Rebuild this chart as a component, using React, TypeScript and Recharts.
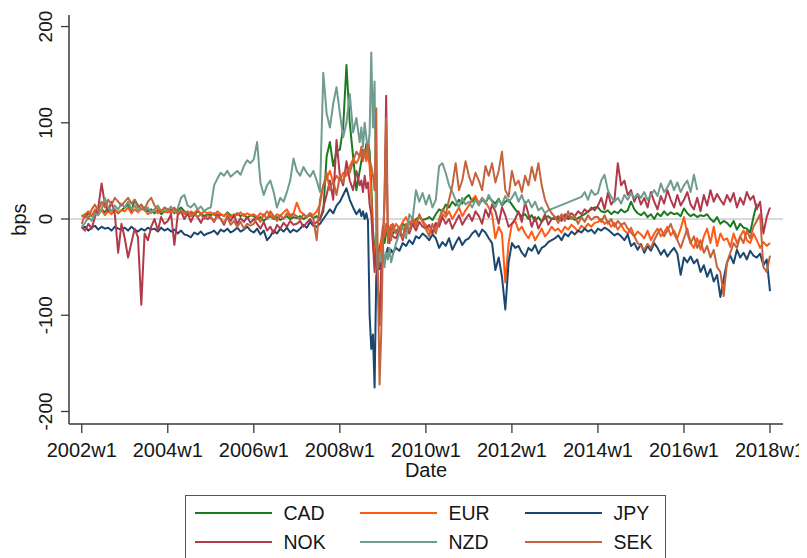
import React from 'react';
import { LineChart, Line, XAxis, YAxis, ReferenceLine, Label } from 'recharts';

const FONT = '"Liberation Sans", Arial, sans-serif';

// weekly date index: weeks since 2002w1
const STEP = 4;
const X_TICKS = [0, 104, 208, 312, 416, 520, 624, 728, 832];
const X_TICK_LABELS = ['2002w1', '2004w1', '2006w1', '2008w1', '2010w1', '2012w1', '2014w1', '2016w1', '2018w1'];
const Y_TICKS = [-200, -100, 0, 100, 200];
const X_TITLE = 'Date';
const Y_TITLE = 'bps';
const CRISIS_WEEKS = [338, 342, 346, 350, 354, 358, 362, 366, 370, 374];

const SERIES = ['CAD', 'EUR', 'JPY', 'NOK', 'NZD', 'SEK'];
const COLORS: Record<string, string> = {
  CAD: '#1b7a1f',
  EUR: '#ff5a16',
  JPY: '#1a476f',
  NOK: '#b0394a',
  NZD: '#6f9c8e',
  SEK: '#c4643c',
};

const n = null;

const CAD = [
  4, 2, 6, 3, 8, 5, 10, 7, 12, 8, 10, 6, 9,
  12, 15, 8, 20, 14, 10, 12, 8, 10, 6, 9, 5, 8,
  7, 10, 6, 9, 12, 8, 5, 7, 4, 8, 6, 3, 5,
  4, 6, 2, 5, 3, 7, 4, 2, 6, 3, 5, 1, 4,
  3, 0, 2, -2, 1, 3, 0, 2, -1, 1, 3, 0, 2,
  1, 3, 0, 2, 4, 1, 3, 0, 8, 65, 80, 55, 70,
  72, 95, 160, 100, 65, 30, 50, 72, 78, 70, -10, -25, -30,
  -18, -12, -14, -15, -12, -10, -5, -8, -3, -6, 0, 2, -1,
  0, 2, -1, 5, 10, 8, 15, 12, 18, 14, 20, 16, 22,
  25, 18, 22, 15, 20, 17, 23, 19, 16, 21, 14, 18, 20,
  15, 10, 6, 3, 5, 0, 4, -2, 2, -3, 1, 3, 0,
  2, 0, 1, 3, 0, 2, -1, 1, 3, 5, 8, 10, 12,
  12, 8, 7, 9, 5, 8, 6, 10, 7, 9, 18, 10, 6,
  4, 7, 2, 5, 0, 6, 3, 8, 4, 7, 5, 6, 3,
  11, 6, 3, 5, 2, 4, 3, 5, 0, -3, 2, -5, -2,
  -4, -8, -2, -11, -5, -9, -10, -14, 2, 16, n, n, n,
  n,
];
const CAD_CRISIS = [60, 65, 80, 35, -35, -40, -22, -25, -18, -10];

const EUR = [
  2, 5, 8, 3, 10, 6, 9, 4, 8, 5, 10, 7, 9,
  8, 12, 6, 10, 7, 11, 9, 5, 8, 10, 6, 9, 7,
  8, 6, 10, 5, 9, 7, 4, 8, 6, 10, 5, 8, 6,
  7, 4, 8, 5, 3, 6, 2, 5, 4, 7, 3, 6, 4,
  5, 2, 6, 3, 8, 4, 1, 5, 3, 7, 10, 4, 6,
  17, 8, 5, 2, 6, 4, 8, 15, 35, 42, 50, 38, 45,
  40, 48, 45, 55, 62, 58, 65, 62, 60, 55, -25, -15, -50,
  -8, -5, -9, -12, -5, -10, -3, 2, -6, 0, -4, 3, -2,
  -6, -12, -15, -8, -4, 5, 2, 8, 0, 6, 12, 3, 9,
  14, 20, 24, 16, 22, 18, 12, 5, -20, -8, -15, -66, -25,
  -5, -2, -12, -8, -15, -20, -13, -22, -16, -10, -18, -14, -8,
  -12, -10, -14, -8, -11, -6, -9, -13, -7, -10, -5, -8, -4,
  -3, 0, -5, -2, -8, -4, -11, -6, -12, -15, -9, -18, -13,
  -16, -20, -12, -22, -15, -10, -18, -14, -8, -17, -12, -20, -10,
  2, -15, -25, -30, -20, -32, -18, -10, -25, -8, -28, -15, -22,
  -20, -29, -15, -25, -18, -12, -22, -25, -15, -22, -30, -24, -28,
  -25,
];
const EUR_CRISIS = [70, 72, 68, 25, -42, -35, -22, -18, -14, -6];

const JPY = [
  -10, -8, -12, -9, -7, -11, -8, -10, -9, -12, -8, -10, -11,
  -9, -12, -8, -11, -13, -10, -12, -9, -11, -10, -13, -9, -12,
  -10, -13, -11, -15, -12, -16, -17, -19, -14, -16, -13, -17, -15,
  -14, -12, -16, -11, -13, -10, -14, -12, -9, -13, -11, -8, -12,
  -14, -10, -16, -12, -22, -18, -12, -15, -10, -13, -9, -14, -11,
  -13, -10, -6, -9, -3, -7, -8, -5, 0, 5, 10, 6, 14,
  18, 25, 32, 20, 12, 5, 10, 8, 6, -100, -120, -60, -52,
  -34, -36, -38, -35, -30, -33, -25, -28, -22, -26, -18, -20, -15,
  -18, -22, -16, -20, -30, -24, -28, -20, -32, -25, -19, -27, -22,
  -20, -15, -12, -18, -11, -14, -20, -25, -53, -40, -60, -94, -45,
  -25, -30, -28, -35, -39, -30, -33, -27, -36, -30, -28, -24, -22,
  -20, -17, -22, -15, -18, -13, -16, -12, -14, -10, -13, -11, -15,
  -10, -12, -9, -11, -14, -17, -15, -18, -22, -16, -28, -25, -32,
  -26, -35, -28, -33, -25, -30, -37, -32, -39, -34, -30, -36, -58,
  -40, -45, -39, -46, -42, -55, -48, -60, -52, -65, -58, -81, -62,
  -45, -38, -46, -32, -40, -35, -42, -33, -38, -40, -36, -48, -42,
  -75,
];
const JPY_CRISIS = [3, 0, -2, -135, -175, -40, -38, -45, -30, -32];

const NOK = [
  -8, -12, -5, -10, 2, 12, 37, 15, 8, 18, 5, -35, -5,
  -20, -40, -25, -10, -19, -89, -15, -22, -8, 0, -12, 2, -5,
  -2, 5, -27, 4, 8, 0, 6, -3, 5, 2, -4, 3, 0,
  2, -3, 5, 0, -6, 3, -2, 4, -5, 1, -3, 2, -4,
  0, -5, -10, -3, -12, -8, -15, -6, -10, -4, -8, -2, -6,
  -5, -2, -8, -4, 0, -6, -3, -1, 12, 25, 40, 20, 82,
  45, 35, 60, 40, 30, 50, 35, 28, 32, 15, -25, -30, -110,
  -25, 128, -25, -18, -20, -12, -22, -8, -15, -5, -12, -3, -8,
  -10, -6, -14, -4, -8, 2, -5, 0, -10, -3, 4, -6, 0,
  5, -2, 8, 3, -5, 10, 2, 15, 8, -5, 12, 4, -8,
  -5, 0, 8, -3, 18, 5, -8, 2, -10, -3, 5, -6, 0,
  0, 3, -2, 5, 2, 6, 3, 8, 5, 10, 7, 12, 9,
  14, 22, 10, 27, 15, 20, 58, 35, 40, 25, 30, 18, 26,
  15, 22, 12, 28, 18, 10, 24, 16, 30, 20, 12, 25, 14,
  20, 28, 15, 10, 22, 8, 25, 14, 30, 18, 26, 20, 15,
  25, 18, 27, 12, 22, 15, 28, 20, 24, 10, 18, -15, 2,
  12,
];
const NOK_CRISIS = [40, 45, 38, 5, -55, -70, -50, 20, -15, -10];

const NZD = [
  -8, -4, 2, -2, 6, 4, 10, 22, 12, 8, 14, 10, 16,
  12, 18, 10, 14, 8, 15, 9, 12, 6, 10, 14, 8, 11,
  9, 13, 7, 11, 22, 25, 14, 12, 16, 10, 13, 8, 11,
  12, 35, 42, 48, 45, 50, 44, 47, 50, 46, 55, 61, 58,
  62, 80, 38, 25, 35, 40, 28, 12, 22, 18, 28, 40, 63,
  50, 45, 54, 48, 44, 50, 40, 28, 152, 110, 95, 120, 137,
  110, 85, 100, 130, 90, 105, 80, 75, 85, 90, 95, -20, -35,
  -28, -35, -30, -38, -25, -15, -8, -20, 5, 0, 30, 18, 27,
  15, 25, 12, 20, 55, 58, 48, 35, 28, 20, 12, 22, 15,
  18, 12, 20, 14, 22, 16, 25, 18, 12, 20, 15, 24, 18,
  22, 28, 18, 25, 15, 20, 12, 18, 9, 12, 6, 9, n,
  n, n, n, n, n, n, n, n, 23, 28, 20, 30, 25,
  27, 40, 46, 30, 23, 18, 22, 16, 25, 20, 27, 22, 26,
  22, 28, 20, 25, 30, 24, 37, 28, 33, 40, 30, 38, 28,
  35, 40, 28, 46, 30, n, n, n, n, n, n, n, n,
  n, n, n, n, n, n, n, n, n, n, n, n, n,
  n,
];
const NZD_CRISIS = [95, 100, 70, 173, 143, -55, -45, -50, -42, -45];

const SEK = [
  -5, 5, 0, 10, 15, 8, 18, 12, 20, 15, 22, 18, 14,
  18, 22, 16, 20, 12, 15, 10, 18, 22, 14, 10, 8, 12,
  10, 8, 12, 6, 9, 5, 8, 3, 6, 2, 5, 0, 4,
  2, -2, 3, 0, -4, 2, -6, -2, -8, -3, -10, -5, -7,
  -5, 2, -3, 5, 0, 8, 3, -2, 4, 0, 6, 2, 5,
  3, -1, 5, 2, 6, 0, -22, 20, 35, 48, 30, 40, 25,
  45, 38, 52, 48, 60, 70, 65, 60, 68, 60, 45, 115, -172,
  -30, 105, -10, -5, -15, -8, -20, -5, -12, 0, -8, 5, -3,
  -10, -18, -5, -15, 0, 10, 5, 20, 35, 58, 30, 40, 60,
  45, 35, 48, 40, 30, 55, 45, 58, 38, 50, 70, 30, 23,
  50, 35, 40, 28, 45, 35, 54, 40, 58, 35, 20, 12, 6,
  2, -4, 5, -2, 8, 0, 3, -5, 2, -3, 4, -1, 2,
  2, -3, 4, -5, 0, -8, -2, -6, -4, -10, -14, -18, -25,
  -28, -32, -26, -30, -22, -15, -10, -18, -12, -5, -15, -22, -30,
  -20, -10, -25, -18, -30, -22, -35, -28, -40, -32, -50, -55, -80,
  -45, -35, -25, -30, -18, -25, -12, -20, -8, -2, 5, -50, -55,
  -38,
];
const SEK_CRISIS = [75, 72, 78, 55, 30, -60, -120, 20, -25, -22];

const BASE: Record<string, (number | null)[]> = { CAD, EUR, JPY, NOK, NZD, SEK };
const EXTRA: Record<string, (number | null)[]> = {
  CAD: CAD_CRISIS, EUR: EUR_CRISIS, JPY: JPY_CRISIS, NOK: NOK_CRISIS, NZD: NZD_CRISIS, SEK: SEK_CRISIS,
};

const buildRows = () => {
  const rows: any[] = [];
  CAD.forEach((_, i) => {
    const r: any = { week: i * STEP };
    SERIES.forEach((s) => { r[s] = BASE[s][i]; });
    rows.push(r);
  });
  CRISIS_WEEKS.forEach((w, j) => {
    const r: any = { week: w };
    SERIES.forEach((s) => { r[s] = EXTRA[s][j]; });
    rows.push(r);
  });
  rows.sort((a, b) => a.week - b.week);
  return rows;
};
const DATA = buildRows();

const AXIS = '#3a3a3a';
const TEXT = '#161616';

const XTick = (props: any) => {
  const { x, y, payload } = props;
  const i = X_TICKS.indexOf(payload.value);
  return (
    <text x={x} y={y + 22} textAnchor="middle" fontSize={20} fontFamily={FONT} fill={TEXT}>
      {X_TICK_LABELS[i]}
    </text>
  );
};

const YTick = (props: any) => {
  const { x, y, payload } = props;
  const tx = x - 7;
  return (
    <text x={tx} y={y} transform={`rotate(-90, ${tx}, ${y})`} textAnchor="middle" fontSize={19} fontFamily={FONT} fill={TEXT}>
      {String(payload.value)}
    </text>
  );
};

const LEGEND_ORDER = [['CAD', 'EUR', 'JPY'], ['NOK', 'NZD', 'SEK']];

export default function App() {
  return (
    <div style={{ position: 'relative', width: 799, height: 550, background: '#fff' }}>
      <LineChart width={799} height={550} data={DATA} margin={{ top: 7, right: 24, left: 0, bottom: 0 }}>
        <XAxis
          dataKey="week"
          type="number"
          domain={[-15.4, 847.7]}
          allowDataOverflow
          ticks={X_TICKS}
          interval={0}
          height={134}
          tickSize={9}
          tick={<XTick />}
          tickLine={{ stroke: AXIS, strokeWidth: 1.3 }}
          axisLine={{ stroke: AXIS, strokeWidth: 1.5 }}
        >
          <Label
            content={(p: any) => {
              const vb = p.viewBox;
              return (
                <text x={vb.x + vb.width / 2} y={vb.y + 53} textAnchor="middle" fontSize={20} fontFamily={FONT} fill={TEXT}>
                  {X_TITLE}
                </text>
              );
            }}
          />
        </XAxis>
        <XAxis xAxisId="top" orientation="top" type="number" domain={[-15.4, 847.7]} height={0} tick={false} tickLine={false} axisLine={{ stroke: AXIS, strokeWidth: 1.5 }} />
        <YAxis
          type="number"
          domain={[-213, 212]}
          allowDataOverflow
          ticks={Y_TICKS}
          interval={0}
          width={61}
          tickSize={8}
          tick={<YTick />}
          tickLine={{ stroke: AXIS, strokeWidth: 1.3 }}
          axisLine={{ stroke: AXIS, strokeWidth: 1.5 }}
        >
          <Label
            content={(p: any) => {
              const vb = p.viewBox;
              const tx = vb.x + 18;
              const ty = vb.y + vb.height / 2;
              return (
                <text x={tx} y={ty} transform={`rotate(-90, ${tx}, ${ty})`} textAnchor="middle" fontSize={20} fontFamily={FONT} fill={TEXT}>
                  {Y_TITLE}
                </text>
              );
            }}
          />
        </YAxis>
        <YAxis yAxisId="right" orientation="right" type="number" domain={[-213, 212]} width={0} tick={false} tickLine={false} axisLine={{ stroke: '#555', strokeWidth: 1.5 }} />
        <ReferenceLine y={0} stroke="#b4b4b4" strokeWidth={1} />
        {SERIES.map((s) => (
          <Line
            key={s}
            dataKey={s}
            type="linear"
            stroke={COLORS[s]}
            strokeWidth={2}
            strokeLinejoin="round"
            dot={false}
            activeDot={false}
            connectNulls
            isAnimationActive={false}
          />
        ))}
      </LineChart>
      <div
        style={{
          position: 'absolute', left: 177, top: 487, width: 481, height: 80,
          border: '1.5px solid #555', boxSizing: 'border-box', background: '#fff',
        }}
      >
        {LEGEND_ORDER.map((row, r) =>
          row.map((s, c) => (
            <div
              key={s}
              style={{
                position: 'absolute', left: 8.5 + c * 165, top: 16.5 + r * 29 - 12, height: 24,
                display: 'flex', alignItems: 'center',
              }}
            >
              <div style={{ width: 77, height: 2, background: COLORS[s] }} />
              <span style={{ marginLeft: 12, fontSize: 19.5, fontFamily: FONT, color: TEXT, lineHeight: '24px' }}>{s}</span>
            </div>
          ))
        )}
      </div>
    </div>
  );
}
